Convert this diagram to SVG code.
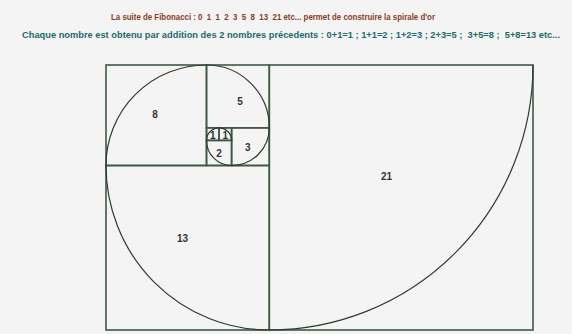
<svg xmlns="http://www.w3.org/2000/svg" width="572" height="334" viewBox="0 0 572 334">
<style>
.sq{fill:none;stroke:#3f5a44;stroke-width:1.6}
.sp{fill:none;stroke:#2e3a30;stroke-width:1.2}
.lb{font-family:"Liberation Sans",Arial,sans-serif;font-weight:bold;font-size:10px;fill:#333;text-anchor:middle}
.t1{font-family:"Liberation Sans",Arial,sans-serif;font-weight:bold;font-size:9.5px;fill:#8a3b1f;text-anchor:middle;white-space:pre}
.t2{font-family:"Liberation Sans",Arial,sans-serif;font-weight:bold;font-size:9.5px;fill:#1d6a6a;text-anchor:middle;white-space:pre}
</style>
<rect x="0" y="0" width="572" height="334" fill="#f4f4f4"/>
<text class="t1" x="273" y="20" textLength="324" lengthAdjust="spacingAndGlyphs" xml:space="preserve">La suite de Fibonacci : 0  1  1  2  3  5  8  13  21 etc... permet de construire la spirale d'or</text>
<text class="t2" x="291" y="38" textLength="538" lengthAdjust="spacingAndGlyphs" xml:space="preserve">Chaque nombre est obtenu par addition des 2 nombres précedents : 0+1=1 ; 1+1=2 ; 1+2=3 ; 2+3=5 ;  3+5=8 ;  5+8=13 etc...</text>
<g id="sq21"><rect class="sq" x="269.3" y="65" width="263.7" height="265"/><text class="lb" x="386.5" y="179.5">21</text></g>
<g id="sq13"><rect class="sq" x="106" y="165.5" width="163.3" height="164.5"/><text class="lb" x="182.5" y="242">13</text></g>
<g id="sq8"><rect class="sq" x="106" y="65" width="100.5" height="100.5"/><text class="lb" x="155" y="118">8</text></g>
<g id="sq5"><rect class="sq" x="206.5" y="65" width="62.8" height="62.8"/><text class="lb" x="240" y="105">5</text></g>
<g id="sq3"><rect class="sq" x="231.6" y="127.8" width="37.7" height="37.7"/><text class="lb" x="247.7" y="151">3</text></g>
<g id="sq2"><rect class="sq" x="206.5" y="140.4" width="25.1" height="25.1"/><text class="lb" x="219" y="156.5">2</text></g>
<g id="sq1a"><rect class="sq" x="206.5" y="127.8" width="12.5" height="12.6"/><text class="lb" x="212.8" y="139">1</text></g>
<g id="sq1b"><rect class="sq" x="219" y="127.8" width="12.6" height="12.6"/><text class="lb" x="225.3" y="139">1</text></g>
<g id="connectors">
<path class="sp" d="M533,65 A263.7 265 0 0 1 269.3,330 A163.3 164.5 0 0 1 106,165.5 A100.5 100.5 0 0 1 206.5,65 A62.8 62.8 0 0 1 269.3,127.8 A37.7 37.7 0 0 1 231.6,165.5 A25.1 25.1 0 0 1 206.5,140.4 A12.5 12.6 0 0 1 219,127.8 A12.6 12.6 0 0 1 231.6,140.4"/>
</g>
</svg>
